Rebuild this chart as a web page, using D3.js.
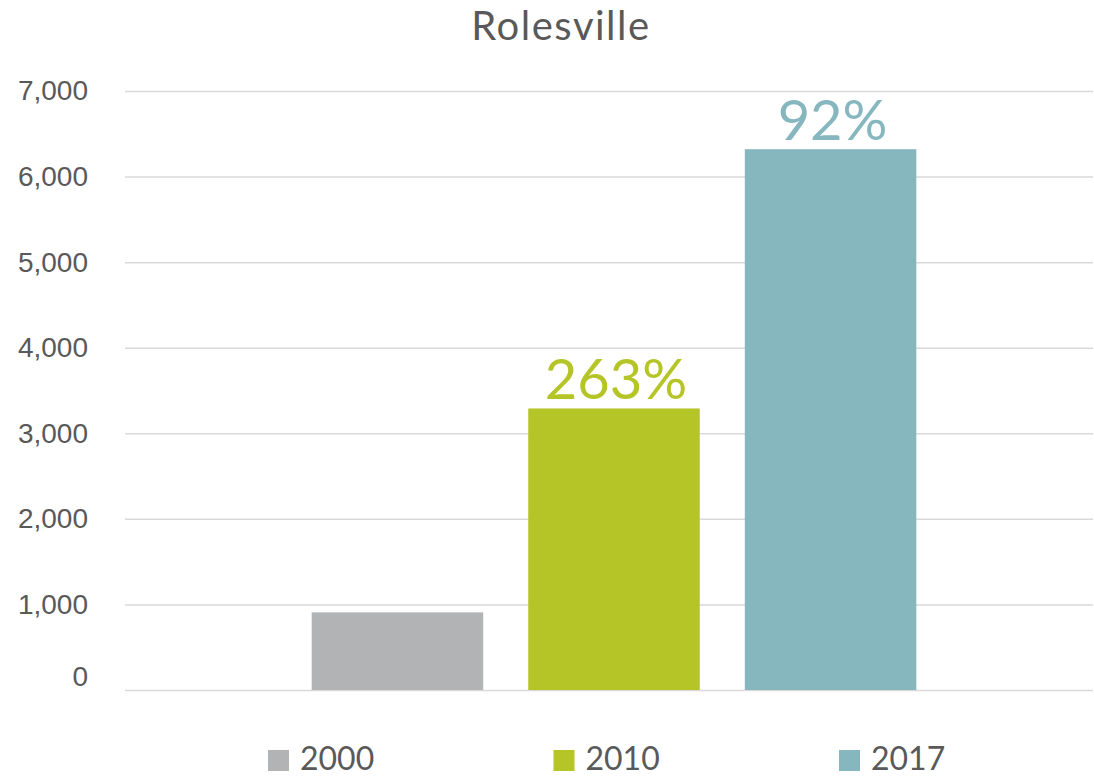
<!DOCTYPE html>
<html>
<head>
<meta charset="utf-8">
<script src="https://cdn.jsdelivr.net/npm/d3@7"></script>
<style>
  body { margin: 0; background: #fff; }
  svg { display: block; font-family: Lato, "Open Sans", sans-serif; }
  .tick line { stroke: #d9d9d9; stroke-width: 1.5; }
  .tick text { fill: #595959; font-size: 28px; }
</style>
</head>
<body>
<svg id="chart" width="1094" height="777"></svg>
<script>
const title = 'Rolesville';
const years = ['2000', '2010', '2017'];
const population = [907, 3290, 6320];
const growthLabels = ['', '263%', '92%'];
const yTicks = [0, 1000, 2000, 3000, 4000, 5000, 6000, 7000];
const colors = ['#b1b3b4', '#b5c426', '#87b7be'];

const width = 1094;
const height = 777;
const plotLeft = 125;
const plotRight = 1093;
const plotTop = 91;
const plotBottom = 690;

const svg = d3.select('#chart');

const yscale = d3.scaleLinear()
  .domain([0, 7000])
  .range([plotBottom, plotTop]);

// one category, three series side by side
const xgroup = d3.scaleBand()
  .domain([title])
  .range([plotLeft, plotRight])
  .paddingOuter(0.245);

const xbar = d3.scaleBand()
  .domain(years)
  .range([xgroup(title) + 5, xgroup(title) + 5 + xgroup.bandwidth()])
  .paddingInner(0.208)
  .paddingOuter(0.104);

const colorScale = d3.scaleOrdinal()
  .domain(years)
  .range(colors);

svg.append('text')
  .text(title)
  .attr('x', 561)
  .attr('y', 40)
  .attr('text-anchor', 'middle')
  .attr('fill', '#595959')
  .style('font-size', '40px')
  .style('letter-spacing', '1.5px');

const leftAxis = d3.axisLeft(yscale)
  .tickValues(yTicks)
  .tickFormat(d3.format(','))
  .tickSize(-(plotRight - plotLeft))
  .tickPadding(37);

svg.append('g')
  .attr('transform', `translate(${plotLeft}, 0)`)
  .call(leftAxis)
  .call((g) => g.select('.domain').remove())
  // the zero label sits a little above its line
  .call((g) => g.selectAll('.tick text').filter((d) => d === 0).attr('y', -13));

const rows = years.map((year, i) => ({ year, value: population[i], label: growthLabels[i] }));

svg.append('g')
  .selectAll('rect')
  .data(rows)
  .enter()
  .append('rect')
  .attr('x', (d) => xbar(d.year))
  .attr('y', (d) => yscale(d.value))
  .attr('width', xbar.bandwidth())
  .attr('height', (d) => yscale(0) - yscale(d.value))
  .attr('fill', (d) => colorScale(d.year));

svg.append('g')
  .selectAll('text')
  .data(rows)
  .enter()
  .append('text')
  .text((d) => d.label)
  .attr('x', (d) => xbar(d.year) + xbar.bandwidth() / 2 + 2)
  .attr('y', (d) => yscale(d.value) - 9)
  .attr('text-anchor', 'middle')
  .attr('fill', (d) => colorScale(d.year))
  .style('font-size', '56px');

const legendX = d3.scaleBand()
  .domain(years)
  .range([268, 268 + 3 * 285.5]);

const legend = svg.append('g');

legend.selectAll('rect')
  .data(years)
  .enter()
  .append('rect')
  .attr('x', (d) => legendX(d))
  .attr('y', 750)
  .attr('width', 21)
  .attr('height', 21)
  .attr('fill', (d) => colorScale(d));

legend.selectAll('text')
  .data(years)
  .enter()
  .append('text')
  .text((d) => d)
  .attr('x', (d) => legendX(d) + 32)
  .attr('y', 769.5)
  .attr('fill', '#595959')
  .style('font-size', '32px');
</script>
</body>
</html>
